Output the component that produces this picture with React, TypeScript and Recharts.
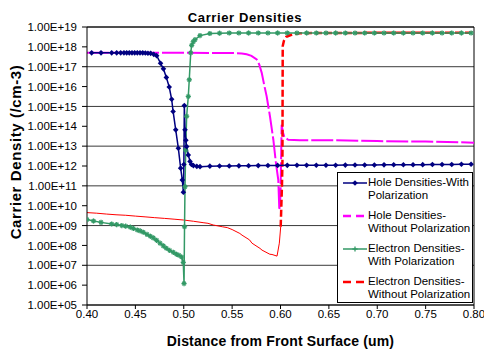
import { LineChart, Line, XAxis, YAxis, CartesianGrid, ReferenceLine } from "recharts";

// x positions (um) and carrier densities (/cm-3)
const holeWithX = [
  0.4048, 0.4145, 0.4255, 0.4307, 0.4348, 0.4382, 0.441, 0.4437, 0.4465, 0.4493, 0.452, 0.4548,
  0.4576, 0.4603, 0.463, 0.4658, 0.469, 0.472, 0.476, 0.479, 0.482, 0.485, 0.4875, 0.489, 0.4917,
  0.4944, 0.4968, 0.4985, 0.4996, 0.5001, 0.5006, 0.5013, 0.5022, 0.503, 0.5047, 0.5065, 0.508,
  0.51, 0.5135, 0.5168, 0.527, 0.537, 0.547, 0.557, 0.567, 0.577, 0.587, 0.597, 0.607, 0.617,
  0.627, 0.637, 0.647, 0.657, 0.667, 0.677, 0.687, 0.697, 0.707, 0.717, 0.727, 0.737, 0.747,
  0.757, 0.767, 0.777, 0.787, 0.797,
];
const holeWithY = [
  5.0e17, 5.0e17, 5.0e17, 5.0e17, 5.0e17, 5.0e17, 5.0e17, 5.0e17, 5.0e17, 5.0e17, 5.0e17, 5.0e17,
  5.0e17, 4.9e17, 4.8e17, 4.7e17, 4.2e17, 3.6e17, 1.5e17, 7.8e16, 2.9e16, 9.5e15, 2.3e15, 5.6e14, 6.6e13,
  7.9e12, 7.8e11, 2.0e11, 4.8e10, 1.2e12, 1.1e15, 6.6e13, 2.0e13, 9.5e12, 3.6e12, 1.7e12, 1.2e12,
  1.05e12, 9.6e11, 9.3e11, 9.8e11, 1.0e12, 1.0e12, 1.02e12, 1.03e12, 1.05e12, 1.06e12, 1.07e12, 1.08e12, 1.09e12,
  1.1e12, 1.1e12, 1.1e12, 1.1e12, 1.11e12, 1.12e12, 1.12e12, 1.13e12, 1.14e12, 1.15e12, 1.15e12, 1.16e12, 1.17e12,
  1.18e12, 1.19e12, 1.2e12, 1.22e12, 1.23e12,
];

const holeWithoutX = [
  0.4, 0.45, 0.5, 0.55, 0.56, 0.565, 0.57, 0.5754, 0.578, 0.5806, 0.583, 0.5857, 0.5891, 0.5926,
  0.5953, 0.5977, 0.5988, 0.6, 0.6012, 0.6025, 0.604, 0.608, 0.62, 0.65, 0.7, 0.75, 0.8,
];
const holeWithoutY = [
  5.0e17, 5.0e17, 5.0e17, 4.9e17, 4.6e17, 4.2e17, 3.5e17, 2.3e17, 1.3e17, 4.9e16, 1.3e16, 3.2e15, 3.2e14, 2.1e13,
  1.4e12, 2.0e11, 6.0e9, 3.2e10, 1.2e14, 5.0e13, 2.8e13, 2.1e13, 2.0e13, 2.0e13, 1.8e13, 1.7e13, 1.5e13,
];

const elecWithX = [
  0.4, 0.4067, 0.4145, 0.4255, 0.4307, 0.436, 0.44, 0.4448, 0.4479, 0.452, 0.455, 0.4582, 0.462,
  0.4655, 0.4685, 0.472, 0.4755, 0.4789, 0.482, 0.4855, 0.4892, 0.4925, 0.495, 0.4978, 0.4995,
  0.5003, 0.5008, 0.5013, 0.502, 0.503, 0.5047, 0.5057, 0.5072, 0.5082, 0.5098, 0.5116, 0.5168,
  0.527, 0.537, 0.547, 0.557, 0.567, 0.577, 0.587, 0.597, 0.607, 0.617, 0.627, 0.637, 0.647, 0.657,
  0.667, 0.677, 0.687, 0.697, 0.707, 0.717, 0.727, 0.737, 0.747, 0.757, 0.767, 0.777, 0.787, 0.797,
];
const elecWithY = [
  2.0e9, 1.7e9, 1.45e9, 1.2e9, 1.12e9, 1.0e9, 9.3e8, 8.3e8, 7.2e8, 6.0e8, 5.4e8, 4.6e8, 3.6e8,
  2.9e8, 2.4e8, 1.8e8, 1.3e8, 9.5e7, 7.2e7, 5.6e7, 4.5e7, 3.6e7, 3.2e7, 2.6e7, 1.4e7,
  1.2e6, 8.7e8, 9.1e10, 6.3e12, 3.2e14, 3.2e15, 2.2e16, 5.0e17, 1.2e18, 1.8e18, 2.3e18, 3.7e18,
  4.7e18, 4.9e18, 5.0e18, 5.0e18, 5.0e18, 5.0e18, 5.0e18, 5.0e18, 5.0e18, 5.0e18, 5.0e18, 5.0e18, 5.0e18, 5.0e18,
  5.0e18, 5.0e18, 5.0e18, 5.0e18, 5.0e18, 5.0e18, 5.0e18, 5.0e18, 5.0e18, 5.0e18, 5.0e18, 5.0e18, 5.0e18, 5.0e18,
];

// lower part is drawn thin and solid, the jump and the top plateau dashed
const elecWithoutLowX = [
  0.4, 0.41, 0.42, 0.43, 0.44, 0.45, 0.46, 0.47, 0.48, 0.49, 0.5, 0.51, 0.52, 0.525, 0.5305, 0.54,
  0.545, 0.55, 0.558, 0.5602, 0.568, 0.5705, 0.5788, 0.5809, 0.589, 0.5912, 0.5964, 0.5988, 0.6002,
];
const elecWithoutLowY = [
  4.5e9, 4.2e9, 3.8e9, 3.5e9, 3.3e9, 3.0e9, 2.75e9, 2.5e9, 2.3e9, 2.1e9, 1.9e9, 1.65e9, 1.4e9, 1.3e9, 1.07e9, 8.7e8,
  7.9e8, 6.3e8, 4.0e8, 3.3e8, 1.9e8, 1.3e8, 7.1e7, 5.8e7, 3.6e7, 3.5e7, 2.9e7, 1.3e8, 8.7e8,
];
const elecWithoutHighX = [0.6002, 0.6015, 0.602, 0.6023, 0.6035, 0.606, 0.612, 0.62, 0.7, 0.8];
const elecWithoutHighY = [8.7e8, 1.0e11, 1.6e12, 1.1e18, 2.0e18, 3.2e18, 4.2e18, 4.9e18, 5.1e18, 5.1e18];

const xTicks = [0.4, 0.45, 0.5, 0.55, 0.6, 0.65, 0.7, 0.75, 0.8];
const yTicks = [1e5, 1e6, 1e7, 1e8, 1e9, 1e10, 1e11, 1e12, 1e13, 1e14, 1e15, 1e16, 1e17, 1e18, 1e19];

const toPoints = (xs: number[], ys: number[]) => xs.map((x, i) => ({ x, y: ys[i] }));

const NAVY = "#000080";
const MAGENTA = "#FF00FF";
const GREEN = "#339966";
const RED = "#FF0000";
const FONT = "'Liberation Sans', Arial, sans-serif";

const Diamond = (props: any) => {
  const { cx, cy } = props;
  if (cx == null || cy == null) return null;
  return <path d={`M${cx},${cy - 2.8}L${cx + 2.8},${cy}L${cx},${cy + 2.8}L${cx - 2.8},${cy}Z`} fill={NAVY} />;
};

const Star = (props: any) => {
  const { cx, cy } = props;
  if (cx == null || cy == null) return null;
  const r = 2.6;
  return (
    <g stroke={GREEN} strokeWidth={1.3}>
      <line x1={cx - r} y1={cy} x2={cx + r} y2={cy} />
      <line x1={cx} y1={cy - r} x2={cx} y2={cy + r} />
      <line x1={cx - 1.8} y1={cy - 1.8} x2={cx + 1.8} y2={cy + 1.8} />
      <line x1={cx - 1.8} y1={cy + 1.8} x2={cx + 1.8} y2={cy - 1.8} />
    </g>
  );
};

const fmtExp = (v: number) => {
  const e = Math.round(Math.log10(v));
  return `1.00E+${String(e).padStart(2, "0")}`;
};

const legendItems = [
  { lines: ["Hole Densities-With", "Polarization"], color: NAVY, dash: undefined, mark: "diamond" },
  { lines: ["Hole Densities-", "Without Polarization"], color: MAGENTA, dash: "8 5", mark: "" },
  { lines: ["Electron Densities-", "With Polarization"], color: GREEN, dash: undefined, mark: "star" },
  { lines: ["Electron Densities-", "Without Polarization"], color: RED, dash: "8 5", mark: "" },
];

export default function App() {
  return (
    <div style={{ position: "absolute", left: 0, top: 0, width: 484, height: 350, background: "#fff", fontFamily: FONT }}>
      <LineChart width={484} height={350} margin={{ top: 27, right: 10, bottom: 15, left: 0 }}>
        <CartesianGrid horizontal vertical={false} stroke="#3a3a3a" strokeWidth={1} />
        <XAxis
          type="number"
          dataKey="x"
          domain={[0.4, 0.8]}
          ticks={xTicks}
          tickFormatter={(v: number) => v.toFixed(2)}
          height={30}
          tickSize={4}
          tickMargin={1}
          stroke="#000"
          tick={{ fill: "#000", fontSize: 11.5, fontFamily: FONT }}
          allowDataOverflow
        />
        <YAxis
          type="number"
          scale="log"
          domain={[1e5, 1e19]}
          ticks={yTicks}
          tickFormatter={fmtExp}
          width={87}
          tickSize={5}
          tickMargin={5}
          stroke="#000"
          tick={{ fill: "#000", fontSize: 11.5, fontFamily: FONT }}
          allowDataOverflow
        />
        <ReferenceLine x={0.8} stroke="#000" />
        <ReferenceLine y={1e19} stroke="#000" />
        <Line data={toPoints(holeWithoutX, holeWithoutY)} dataKey="y" stroke={MAGENTA} strokeWidth={2} strokeDasharray="22 3" dot={false} isAnimationActive={false} />
        <Line data={toPoints(elecWithoutLowX, elecWithoutLowY)} dataKey="y" stroke={RED} strokeWidth={1} dot={false} isAnimationActive={false} />
        <Line data={toPoints(elecWithoutHighX, elecWithoutHighY)} dataKey="y" stroke={RED} strokeWidth={2.5} strokeDasharray="7 3" dot={false} isAnimationActive={false} />
        <Line data={toPoints(elecWithX, elecWithY)} dataKey="y" stroke={GREEN} strokeWidth={1.5} dot={<Star />} isAnimationActive={false} />
        <Line data={toPoints(holeWithX, holeWithY)} dataKey="y" stroke={NAVY} strokeWidth={1.5} dot={<Diamond />} isAnimationActive={false} />
      </LineChart>

      <div style={{ position: "absolute", left: 0, top: 10, width: 490, textAlign: "center", fontWeight: "bold", fontSize: 13, letterSpacing: 0.6 }}>
        Carrier Densities
      </div>
      <div style={{ position: "absolute", left: 87, width: 387, top: 333, textAlign: "center", fontWeight: "bold", fontSize: 14, letterSpacing: 0.15 }}>
        Distance from Front Surface (um)
      </div>
      <div
        style={{
          position: "absolute", left: 16, top: 152, width: 240, marginLeft: -120, marginTop: -9, height: 18,
          textAlign: "center", fontWeight: "bold", fontSize: 15, letterSpacing: 0.6, transform: "rotate(-90deg)", lineHeight: "18px",
        }}
      >
        Carrier Density (/cm-3)
      </div>

      <div
        style={{
          position: "absolute", left: 337, top: 172, width: 134, height: 129, background: "#fff",
          border: "1px solid #000", fontSize: 11.5, lineHeight: "13px", color: "#000",
        }}
      >
        {legendItems.map((it, i) => (
          <div key={i} style={{ position: "absolute", left: 0, top: 3 + i * 33, width: 134 }}>
            <svg width={28} height={14} style={{ position: "absolute", left: 3, top: 0 }}>
              <line x1={2} y1={7} x2={26} y2={7} stroke={it.color} strokeWidth={it.dash ? 2.5 : 1.5} strokeDasharray={it.dash} />
              {it.mark === "diamond" && <path d="M14,4.2L16.8,7L14,9.8L11.2,7Z" fill={NAVY} />}
              {it.mark === "star" && (
                <g stroke={GREEN} strokeWidth={1.3}>
                  <line x1={11.4} y1={7} x2={16.6} y2={7} />
                  <line x1={14} y1={4.4} x2={14} y2={9.6} />
                </g>
              )}
            </svg>
            <div style={{ position: "absolute", left: 30, top: 0, whiteSpace: "nowrap" }}>
              {it.lines[0]}
              <br />
              {it.lines[1]}
            </div>
          </div>
        ))}
      </div>
    </div>
  );
}
